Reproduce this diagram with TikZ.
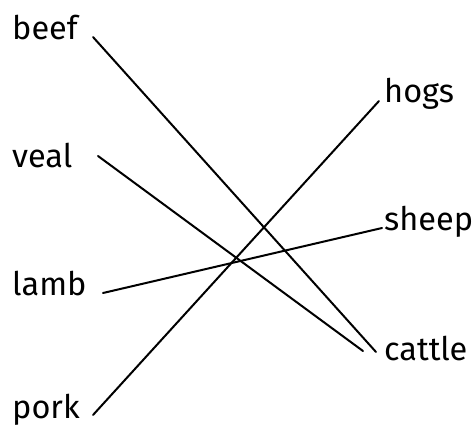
\documentclass[tikz,border=0pt]{standalone}
\usepackage{fontspec}
\setmainfont{Fira Sans}
\begin{document}
\begin{tikzpicture}[x=1pt,y=-1pt,
  lbl/.style={anchor=base west,inner sep=0pt,font=\fontsize{32.5}{38}\selectfont},
  conn/.style={line width=2pt,line cap=round}]
\useasboundingbox (0,0) rectangle (473,429);
\node[lbl] (beef) at (12,39) {beef};
\node[lbl] (veal) at (12,167) {veal};
\node[lbl] (lamb) at (12,295) {lamb};
\node[lbl] (pork) at (12,418) {pork};
\node[lbl] (hogs) at (384,102) {hogs};
\node[lbl] (sheep) at (384,230) {sheep};
\node[lbl] (cattle) at (384,360) {cattle};
\coordinate (beefR) at (93,37);
\coordinate (vealR) at (98,156);
\coordinate (lambR) at (103,293);
\coordinate (porkR) at (93,415);
\coordinate (hogsL) at (379,101);
\coordinate (sheepL) at (382,228);
\coordinate (cattleL1) at (376,352);
\coordinate (cattleL2) at (363,351);
\draw[conn] (beefR) -- (cattleL1);
\draw[conn] (vealR) -- (cattleL2);
\draw[conn] (lambR) -- (sheepL);
\draw[conn] (porkR) -- (hogsL);
\end{tikzpicture}
\end{document}
